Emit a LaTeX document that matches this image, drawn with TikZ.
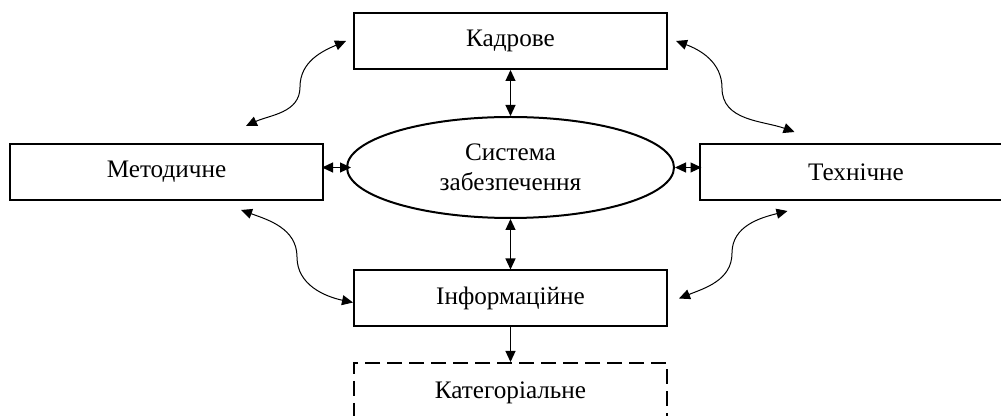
\documentclass[tikz,border=0pt]{standalone}
\usepackage{fontspec}
\setmainfont{Liberation Serif}
\usetikzlibrary{shapes.geometric,arrows.meta}
\tikzset{
blk/.style={draw,line width=1pt,minimum width=156.5pt,minimum height=28pt,inner sep=0pt,font=\fontsize{12.6}{15}\selectfont},
ell/.style={draw,ellipse,line width=1pt,minimum width=163.5pt,minimum height=50.5pt,inner sep=0pt,align=center,font=\fontsize{12.6}{15}\selectfont},
dbl/.style={{Triangle[length=5.5pt,width=5pt]}-{Triangle[length=5.5pt,width=5pt]},line width=0.5pt},
sgl/.style={-{Triangle[length=5.5pt,width=5pt]},line width=0.5pt}
}
\begin{document}
\begin{tikzpicture}[x=0.5pt,y=0.5pt]
\useasboundingbox(0,0) rectangle (1001,-416);
\clip(0,0) rectangle (1001,-416);
\node[blk](kad) at (510.5,-41){Кадрове};
\node[blk](met) at (166.5,-172){Методичне};
\node[blk](tex) at (856,-172){Технічне};
\node[blk](inf) at (510.5,-298.5){Інформаційне};
\node[blk,dashed,dash pattern=on 7.5pt off 3.5pt,minimum height=30pt](kat) at (510.5,-393){Категоріальне};
\node[ell](sys) at (510.5,-167.5){Система\\забезпечення};
% straight links
\draw[dbl,line width=0.6pt](kad.south)--(sys.north);
\draw[dbl,line width=0.6pt](sys.south)--(inf.north);
\draw[dbl,line width=0.6pt]([xshift=-1pt]sys.west-|met.east)--([xshift=2.5pt]sys.west);
\draw[dbl,line width=0.6pt](sys.east)--([xshift=1.5pt]sys.east-|tex.west);
\draw[sgl,line width=0.6pt](inf.south)--(kat.north);
% curved links
\coordinate(mtl) at (300,-87);
\coordinate(mtr) at (722,-88);
\coordinate(mbl) at (297,-257);
\coordinate(mbr) at (732,-253);
\draw[dbl]([xshift=-39pt,yshift=8.5pt]met.north east) to[out=25,in=-90](mtl) to[out=90,in=203]([xshift=-3.5pt]kad.west);
\draw[dbl]([xshift=4pt]kad.east) to[out=-20,in=90](mtr) to[out=-90,in=160]([xshift=48pt,yshift=5.5pt]tex.north west);
\draw[dbl]([xshift=-41.5pt,yshift=-4.5pt]met.south east) to[out=-20,in=90](mbl) to[out=-90,in=168]([yshift=-2pt]inf.west);
\draw[dbl]([xshift=44.5pt,yshift=-5pt]tex.south west) to[out=194,in=90](mbr) to[out=-90,in=22]([xshift=5.5pt]inf.east);
\end{tikzpicture}
\end{document}
